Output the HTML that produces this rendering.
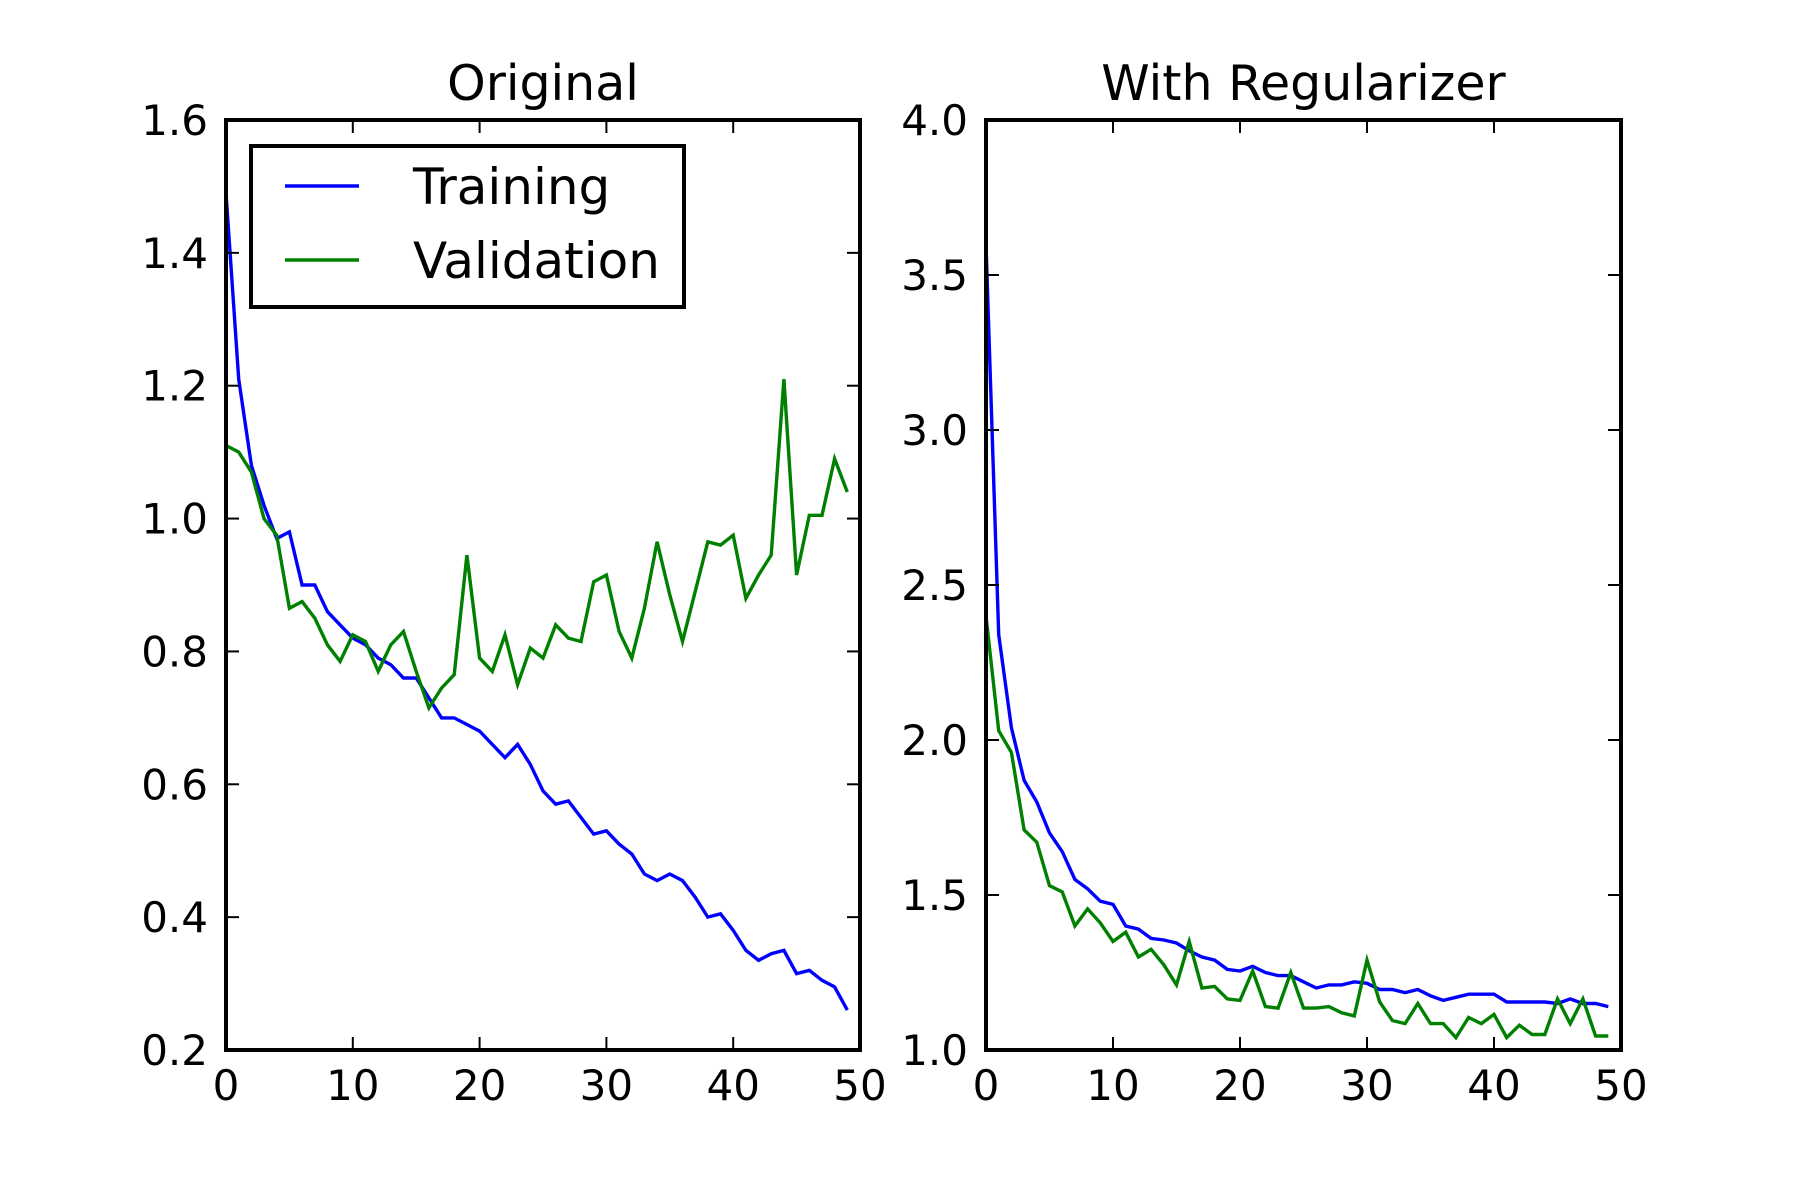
<!DOCTYPE html>
<html><head><meta charset="utf-8"><style>
html,body{margin:0;padding:0;background:#fff;}
svg{display:block;font-family:"DejaVu Sans","Liberation Sans",sans-serif;}
</style></head><body>
<svg id="fig" width="1800" height="1200" viewBox="0 0 1800 1200"></svg>
<script>
const epochs = Array.from({length:50},(_,i)=>i);
const origTraining = [1.49,1.21,1.08,1.02,0.97,0.98,0.90,0.90,0.86,0.84,0.82,0.81,0.79,0.78,0.76,0.76,0.73,0.70,0.70,0.69,0.68,0.66,0.64,0.66,0.63,0.59,0.57,0.575,0.55,0.525,0.53,0.51,0.495,0.465,0.455,0.465,0.455,0.43,0.40,0.405,0.38,0.35,0.335,0.345,0.35,0.315,0.32,0.305,0.295,0.26];
const origValidation = [1.11,1.10,1.07,1.00,0.975,0.865,0.875,0.85,0.81,0.785,0.825,0.815,0.77,0.81,0.83,0.77,0.715,0.745,0.765,0.945,0.79,0.77,0.825,0.75,0.805,0.79,0.84,0.82,0.815,0.905,0.915,0.83,0.79,0.865,0.965,0.885,0.815,0.89,0.965,0.96,0.975,0.88,0.915,0.945,1.21,0.915,1.005,1.005,1.09,1.04];
const regTraining = [3.6,2.34,2.04,1.87,1.80,1.70,1.64,1.55,1.52,1.48,1.47,1.40,1.39,1.36,1.355,1.345,1.32,1.30,1.29,1.26,1.255,1.27,1.25,1.24,1.24,1.22,1.20,1.21,1.21,1.22,1.215,1.195,1.195,1.185,1.195,1.175,1.16,1.17,1.18,1.18,1.18,1.155,1.155,1.155,1.155,1.15,1.165,1.15,1.15,1.14];
const regValidation = [2.4,2.03,1.96,1.71,1.67,1.53,1.51,1.40,1.455,1.41,1.35,1.38,1.30,1.325,1.275,1.21,1.35,1.20,1.205,1.165,1.16,1.255,1.14,1.135,1.25,1.135,1.135,1.14,1.12,1.11,1.29,1.155,1.095,1.085,1.15,1.085,1.085,1.04,1.105,1.085,1.115,1.04,1.08,1.05,1.05,1.165,1.085,1.165,1.045,1.045];
const xTicks = [0,10,20,30,40,50];
const origYTicks = [0.2,0.4,0.6,0.8,1.0,1.2,1.4,1.6];
const regYTicks = [1.0,1.5,2.0,2.5,3.0,3.5,4.0];

const NS="http://www.w3.org/2000/svg";
const svg=document.getElementById('fig');
function mk(tag,attrs,parent){const e=document.createElementNS(NS,tag);for(const k in attrs)e.setAttribute(k,attrs[k]);(parent||svg).appendChild(e);return e;}

function panel(key,title,x0,x1,yMin,yMax,yTicks,tr,va){
  const y0=120,y1=1050;
  const g=mk('g',{});
  
  
  const sx=v=>x0+(v-0)/(50-0)*(x1-x0);
  const sy=v=>y1-(v-yMin)/(yMax-yMin)*(y1-y0);
  function line(data,color,name){
    const pts=epochs.map((e,i)=>sx(e).toFixed(1)+','+sy(data[i]).toFixed(1)).join(' ');
    const p=mk('polyline',{points:pts,fill:'none',stroke:color,'stroke-width':3.4,'stroke-linejoin':'miter'},g);
    
    
  }
  line(tr,'#0000ff',key+'-training-line');
  line(va,'#008000',key+'-validation-line');
  const tl=13;
  xTicks.forEach(t=>{
    const x=sx(t);
    mk('line',{x1:x,y1:y1,x2:x,y2:y1-tl,stroke:'#000','stroke-width':2},g);
    mk('line',{x1:x,y1:y0,x2:x,y2:y0+tl,stroke:'#000','stroke-width':2},g);
    const lab=mk('text',{x:x,y:1100,'font-size':42,'text-anchor':'middle',fill:'#000'},g);
    lab.textContent=String(t);
    
    
  });
  yTicks.forEach(t=>{
    const y=sy(t);
    mk('line',{x1:x0,y1:y,x2:x0+tl,y2:y,stroke:'#000','stroke-width':2},g);
    mk('line',{x1:x1,y1:y,x2:x1-tl,y2:y,stroke:'#000','stroke-width':2},g);
    const lab=mk('text',{x:x0-18,y:y+15,'font-size':42,'text-anchor':'end',fill:'#000'},g);
    lab.textContent=t.toFixed(1);
    
    
  });
  const fr=mk('rect',{x:x0,y:y0,width:x1-x0,height:y1-y0,fill:'none',stroke:'#000','stroke-width':4},g);
  
  
  const tt=mk('text',{x:(x0+x1)/2,y:100,'font-size':49,'text-anchor':'middle',fill:'#000'},g);
  tt.textContent=title;
  
  
}
panel('original','Original',226,860,0.2,1.6,origYTicks,origTraining,origValidation);
panel('regularizer','With Regularizer',986,1621,1.0,4.0,regYTicks,regTraining,regValidation);

const lg=mk('g',{});


mk('rect',{x:251,y:146,width:433,height:161,fill:'#fff',stroke:'#000','stroke-width':4},lg);
[['Training','#0000ff',186],['Validation','#008000',260]].forEach(([t,c,y])=>{
  const e=mk('g',{},lg);
  
  
  mk('line',{x1:285,y1:y,x2:359,y2:y,stroke:c,'stroke-width':3.4},e);
  const tx=mk('text',{x:413,y:y+18,'font-size':50,fill:'#000'},e);
  tx.textContent=t;
});
</script>
</body></html>
